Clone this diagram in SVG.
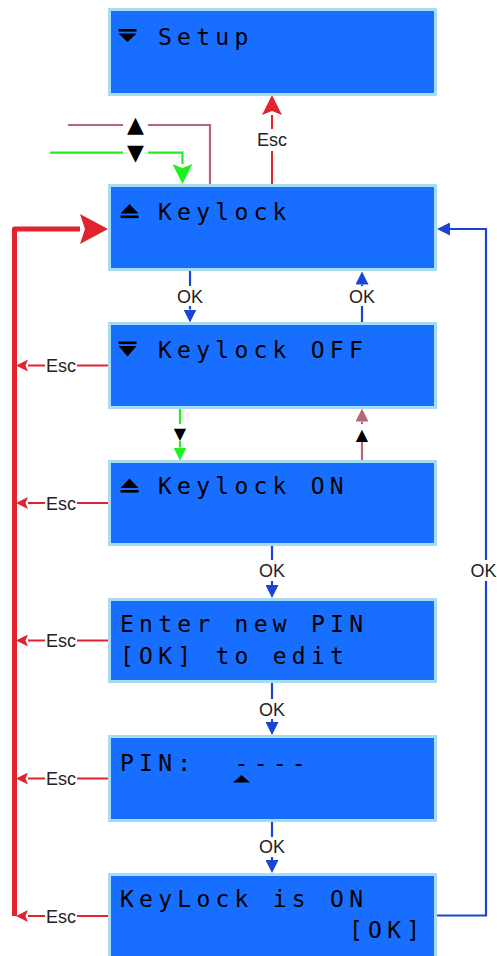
<svg xmlns="http://www.w3.org/2000/svg" width="497" height="956" viewBox="0 0 497 956">
<style>
.box{fill:#176eff;stroke:#a6dcef;stroke-width:3}
.lcd{font-family:"DejaVu Sans Mono",monospace;font-size:23px;letter-spacing:5.25px;fill:#000}
.ico{fill:#000}
.lbl{font-family:"Liberation Sans",Arial,sans-serif;font-size:18px;fill:#222;text-anchor:middle}
.tri{font-family:"DejaVu Sans",sans-serif;fill:#000;text-anchor:middle}
.bg{fill:#fff}
.blue{fill:none;stroke:#1c44d4;stroke-width:2.2}
.red{fill:none;stroke:#e0242f;stroke-width:2}
.redT{fill:none;stroke:#e0242f;stroke-width:5;stroke-linejoin:round}
.green{fill:none;stroke:#20f020;stroke-width:2.2}
.mauve{fill:none;stroke:#b5677a;stroke-width:2.2}
</style>
<defs>
<marker id="aBlue" viewBox="0 0 13 13" refX="0" refY="6.5" markerWidth="13" markerHeight="13" markerUnits="userSpaceOnUse" orient="auto"><path d="M0,0 L13,6.5 L0,13 z" fill="#1c44d4"/></marker>
<marker id="aRedS" viewBox="0 0 12 12" refX="0" refY="6" markerWidth="12" markerHeight="12" markerUnits="userSpaceOnUse" orient="auto"><path d="M0,0 L12,6 L0,12 L2.5,6 z" fill="#e0242f"/></marker>
<marker id="aRedL" viewBox="0 0 20 20" refX="0" refY="10" markerWidth="20" markerHeight="20" markerUnits="userSpaceOnUse" orient="auto"><path d="M0,0 L20,10 L0,20 L4,10 z" fill="#e0242f"/></marker>
<marker id="aRedXL" viewBox="0 0 28 30" refX="0" refY="15" markerWidth="28" markerHeight="30" markerUnits="userSpaceOnUse" orient="auto"><path d="M0,0 L28,15 L0,30 L5,15 z" fill="#e0242f"/></marker>
<marker id="aGreenL" viewBox="0 0 20 20" refX="0" refY="10" markerWidth="20" markerHeight="20" markerUnits="userSpaceOnUse" orient="auto"><path d="M0,0 L20,10 L0,20 L4,10 z" fill="#20f020"/></marker>
<marker id="aGreenS" viewBox="0 0 13 13" refX="0" refY="6.5" markerWidth="13" markerHeight="13" markerUnits="userSpaceOnUse" orient="auto"><path d="M0,0 L13,6.5 L0,13 z" fill="#20f020"/></marker>
<marker id="aMauveS" viewBox="0 0 13 13" refX="0" refY="6.5" markerWidth="13" markerHeight="13" markerUnits="userSpaceOnUse" orient="auto"><path d="M0,0 L13,6.5 L0,13 z" fill="#b5677a"/></marker>
</defs>

<g id="connectors">
  <!-- top inputs -->
  <path class="mauve" d="M68,125 H210 V184"/>
  <path class="green" d="M50,152.7 H182.5 V164" marker-end="url(#aGreenL)"/>
  <rect class="bg" x="123" y="115" width="25" height="46"/>
  <text class="tri" x="135.5" y="132" font-size="22">▲</text>
  <text class="tri" x="135.5" y="160" font-size="22">▼</text>

  <!-- Esc to Setup -->
  <path class="red" d="M272,184 V115" marker-end="url(#aRedL)"/>
  <rect class="bg" x="255" y="129" width="34" height="22"/>
  <text class="lbl" x="272" y="145.5">Esc</text>

  <!-- OK down box2->box3 -->
  <path class="blue" d="M190,271 V309.5" marker-end="url(#aBlue)"/>
  <rect class="bg" x="175" y="286" width="30" height="20"/>
  <text class="lbl" x="190" y="302.5">OK</text>

  <!-- OK up box3->box2 -->
  <path class="blue" d="M362,322 V284.5" marker-end="url(#aBlue)"/>
  <rect class="bg" x="347" y="286" width="30" height="20"/>
  <text class="lbl" x="362" y="302.5">OK</text>

  <!-- green down box3->box4 -->
  <path class="green" d="M180,409 V447.5" marker-end="url(#aGreenS)"/>
  <rect class="bg" x="170" y="424" width="20" height="17"/>
  <text class="tri" x="180" y="439" font-size="16">▼</text>

  <!-- mauve up box4->box3 -->
  <path class="mauve" d="M362,460 V421.5" marker-end="url(#aMauveS)"/>
  <rect class="bg" x="352" y="424" width="20" height="17"/>
  <text class="tri" x="362" y="440" font-size="16">▲</text>

  <!-- OK chain -->
  <path class="blue" d="M272,546 V585" marker-end="url(#aBlue)"/>
  <rect class="bg" x="257" y="560" width="30" height="21"/>
  <text class="lbl" x="272" y="577">OK</text>

  <path class="blue" d="M272,683 V722" marker-end="url(#aBlue)"/>
  <rect class="bg" x="257" y="699" width="30" height="20"/>
  <text class="lbl" x="272" y="715.5">OK</text>

  <path class="blue" d="M272,822 V860" marker-end="url(#aBlue)"/>
  <rect class="bg" x="257" y="837" width="30" height="20"/>
  <text class="lbl" x="272" y="853">OK</text>

  <!-- OK loop back -->
  <path class="blue" d="M437,915.5 H486 V229 H450" marker-end="url(#aBlue)"/>
  <rect class="bg" x="470" y="560" width="27" height="21"/>
  <text class="lbl" x="483.5" y="577">OK</text>

  <!-- thick red return -->
  <path class="redT" d="M14.5,916 V229 H80" marker-end="url(#aRedXL)"/>

  <!-- Esc arrows -->
  <path class="red" d="M108,365.5 H28" marker-end="url(#aRedS)"/>
  <rect class="bg" x="45" y="355" width="32" height="21"/>
  <text class="lbl" x="61" y="372">Esc</text>

  <path class="red" d="M108,503 H28" marker-end="url(#aRedS)"/>
  <rect class="bg" x="45" y="492" width="32" height="21"/>
  <text class="lbl" x="61" y="509.5">Esc</text>

  <path class="red" d="M108,640.5 H28" marker-end="url(#aRedS)"/>
  <rect class="bg" x="45" y="630" width="32" height="21"/>
  <text class="lbl" x="61" y="647">Esc</text>

  <path class="red" d="M108,778.5 H28" marker-end="url(#aRedS)"/>
  <rect class="bg" x="45" y="768" width="32" height="21"/>
  <text class="lbl" x="61" y="785">Esc</text>

  <path class="red" d="M108,916 H28" marker-end="url(#aRedS)"/>
  <rect class="bg" x="45" y="905" width="32" height="21"/>
  <text class="lbl" x="61" y="922.5">Esc</text>
</g>

<g id="setup">
  <rect class="box" x="109.5" y="9.5" width="326" height="85"/>
  <rect class="ico" x="118.5" y="29" width="18" height="2.6"/>
  <polygon class="ico" points="118.5,33.5 136.5,33.5 127.5,42"/>
  <text class="lcd" x="158" y="44.5">Setup</text>
</g>

<g id="keylock">
  <rect class="box" x="109.5" y="185.5" width="326" height="84"/>
  <polygon class="ico" points="120.5,213.5 138.5,213.5 129.5,204"/>
  <rect class="ico" x="120.5" y="215.5" width="18" height="2.6"/>
  <text class="lcd" x="158" y="220">Keylock</text>
</g>

<g id="keylock-off">
  <rect class="box" x="109.5" y="323.5" width="326" height="84"/>
  <rect class="ico" x="118.5" y="341.5" width="18" height="2.6"/>
  <polygon class="ico" points="118.5,346 136.5,346 127.5,356.5"/>
  <text class="lcd" x="158" y="357.7">Keylock OFF</text>
</g>

<g id="keylock-on">
  <rect class="box" x="109.5" y="461.5" width="326" height="83"/>
  <polygon class="ico" points="120.5,488 138.5,488 129.5,478.5"/>
  <rect class="ico" x="120.5" y="490" width="18" height="2.6"/>
  <text class="lcd" x="158" y="493.5">Keylock ON</text>
</g>

<g id="enter-pin">
  <rect class="box" x="109.5" y="599.5" width="326" height="82"/>
  <text class="lcd" x="120" y="632.3">Enter new PIN</text>
  <text class="lcd" x="120" y="664">[OK] to edit</text>
</g>

<g id="pin">
  <rect class="box" x="109.5" y="736.5" width="326" height="84"/>
  <text class="lcd" x="120" y="770.5" xml:space="preserve" style="white-space:pre">PIN:  ----</text>
  <polygon class="ico" points="233,782.5 241.5,775 250,782.5"/>
</g>

<g id="keylock-is-on">
  <rect class="box" x="109.5" y="874.5" width="326" height="86"/>
  <text class="lcd" x="120" y="907.3">KeyLock is ON</text>
  <text class="lcd" x="349" y="938">[OK]</text>
</g>
</svg>
